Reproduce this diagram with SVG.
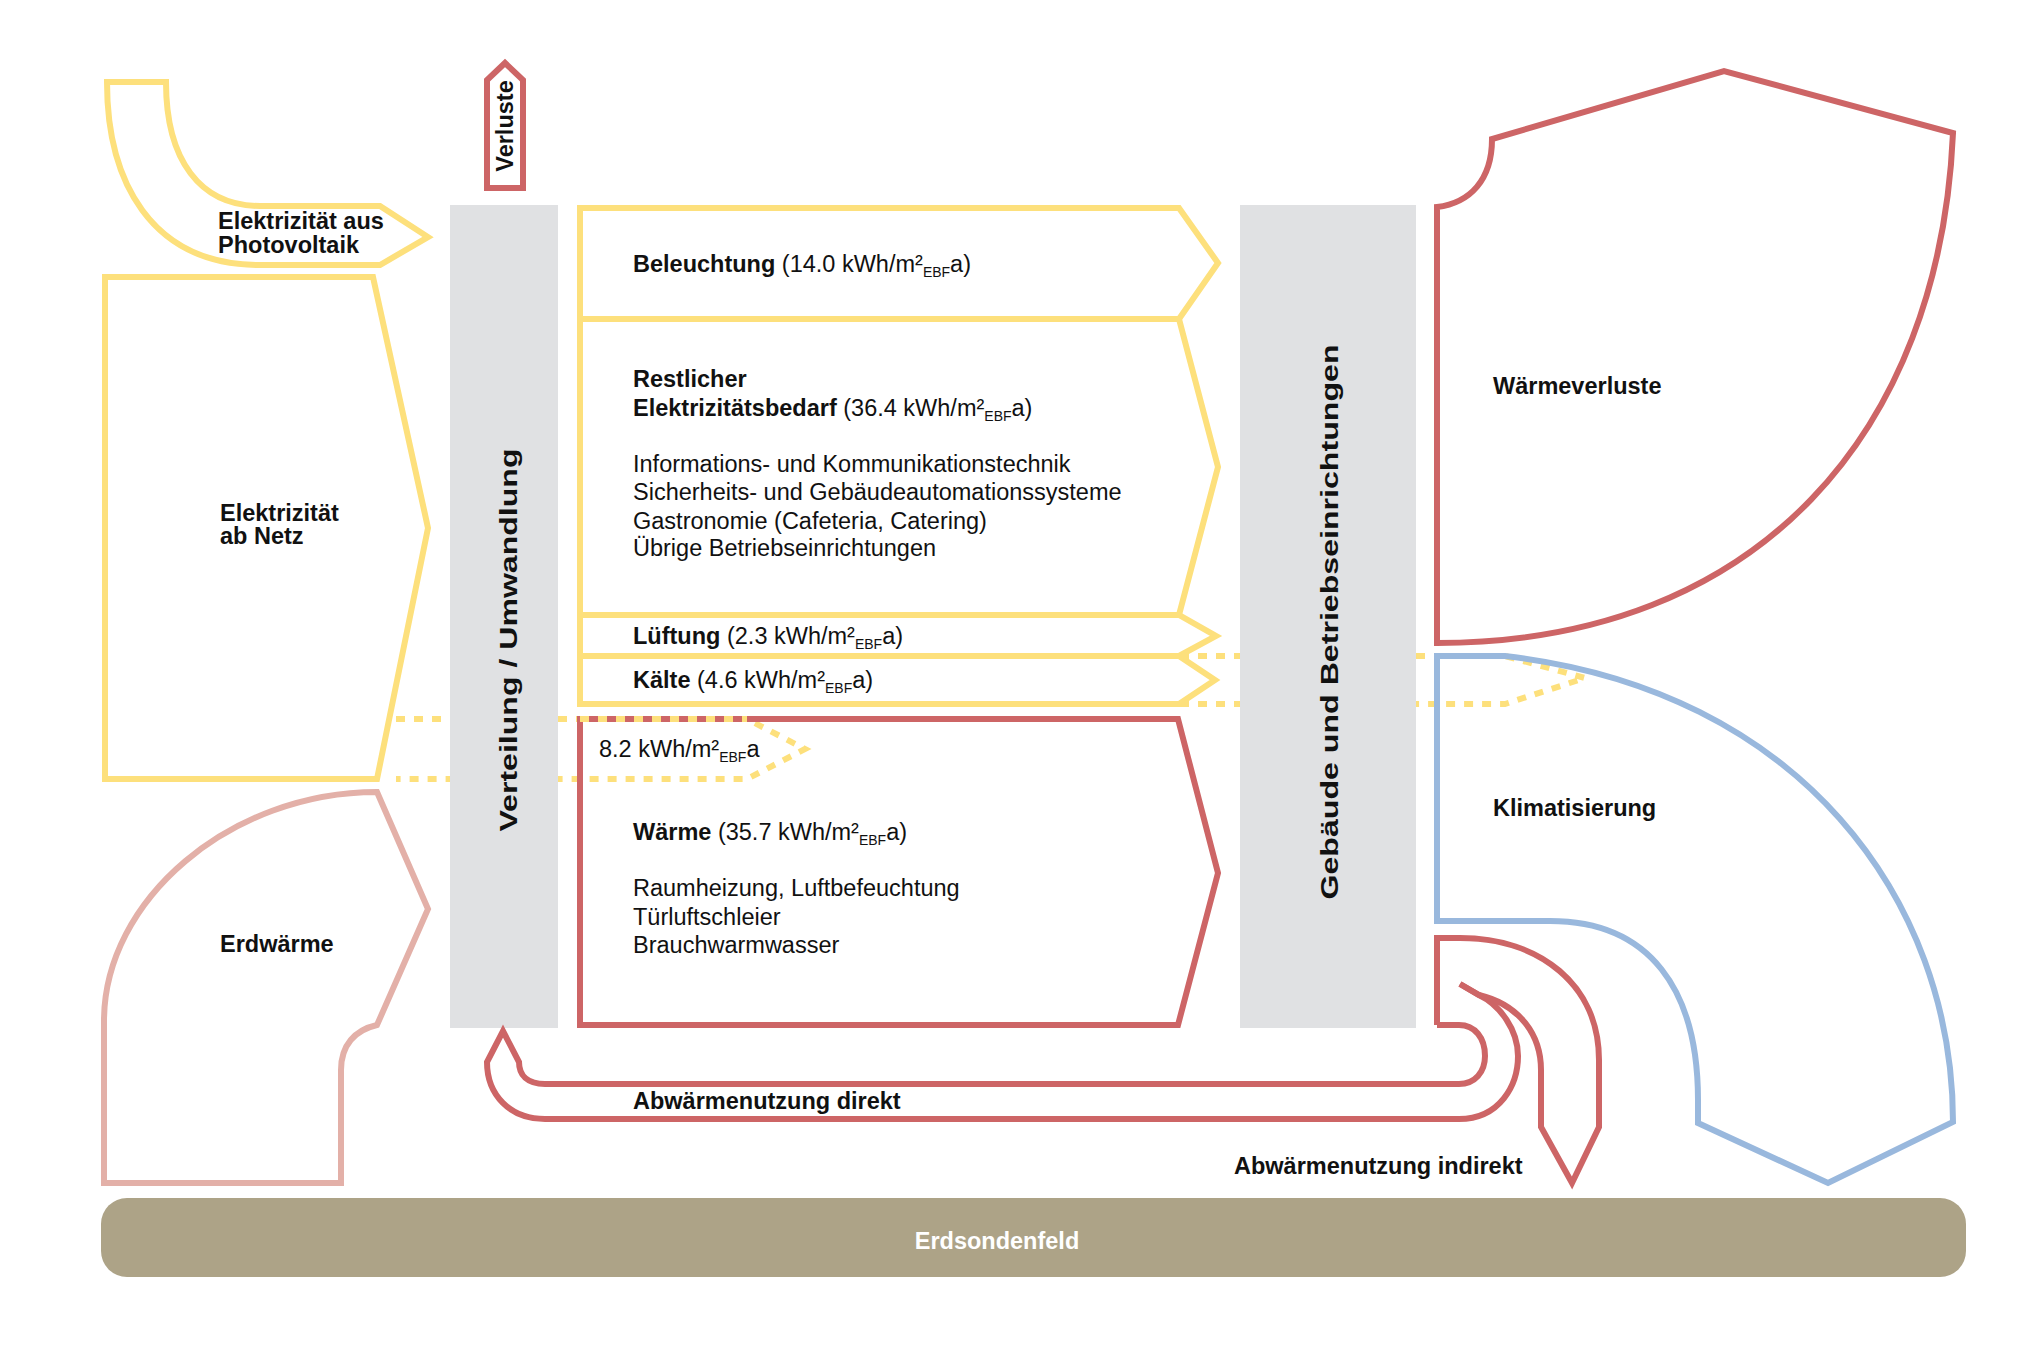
<svg xmlns="http://www.w3.org/2000/svg" width="2037" height="1358" viewBox="0 0 2037 1358">
<style>
.y{fill:none;stroke:#fde07c;stroke-width:6}
.r{fill:none;stroke:#cd6566;stroke-width:6}
.p{fill:none;stroke:#e3b0a8;stroke-width:6}
.b{fill:none;stroke:#99b8dd;stroke-width:6}
.d{fill:none;stroke:#fde07c;stroke-width:6;stroke-dasharray:9 9}
.g{fill:#e0e1e3}
text{font-family:"Liberation Sans",Arial,sans-serif;font-size:23.5px;fill:#111}
.bd{font-weight:bold}
.s{font-size:14px}
</style>
<rect width="2037" height="1358" fill="#fff"/>
<g id="connectors">
<path class="d" d="M396 719 H747 L805 749 L747 779 H396"/>
<path class="d" d="M1180 656 H1240 M1180 704 H1240 M1416 656 H1505 L1585 678 L1505 704 H1416"/>
</g>
<g id="pv"><path class="y" d="M107 82 H166 C166 160 200 206 260 206 H380 L428 237 L380 265 H260 C150 265 107 180 107 82 Z"/>
<text class="bd" x="218" y="229">Elektrizität aus</text><text class="bd" x="218" y="253">Photovoltaik</text></g>
<g id="netz"><path class="y" d="M105 277 H373 L428 528 L377 779 H105 Z"/>
<text class="bd" x="220" y="521">Elektrizität</text><text class="bd" x="220" y="544">ab Netz</text></g>
<g id="erdwaerme"><path class="p" d="M377 792 L428 909 L377 1025 C355 1030 341 1045 341 1070 V1183 H104 V1021 C104 900 230 792 377 792 Z"/>
<text class="bd" x="220" y="952">Erdwärme</text></g>
<g id="verluste"><path class="r" d="M487 188 V80 L505 63 L523 80 V188 Z"/>
<text class="bd" transform="translate(513,126) rotate(-90)" text-anchor="middle" font-size="20">Verluste</text></g>
<g id="verteilung"><rect class="g" x="450" y="205" width="108" height="823"/>
<text class="bd" transform="translate(517,640) rotate(-90)" text-anchor="middle" font-size="29" textLength="383" lengthAdjust="spacingAndGlyphs">Verteilung / Umwandlung</text></g>
<g id="beleuchtung"><path class="y" d="M580 208 H1179 L1218 263 L1179 319 H580 Z"/>
<text x="633" y="272"><tspan class="bd">Beleuchtung</tspan> (14.0 kWh/m²<tspan class="s" dy="5">EBF</tspan><tspan dy="-5">a)</tspan></text></g>
<g id="restlicher"><path class="y" d="M580 319 H1179 L1218 467 L1179 615 H580 Z"/>
<text class="bd" x="633" y="387">Restlicher</text>
<text x="633" y="416"><tspan class="bd">Elektrizitätsbedarf</tspan> (36.4 kWh/m²<tspan class="s" dy="5">EBF</tspan><tspan dy="-5">a)</tspan></text>
<text x="633" y="472">Informations- und Kommunikationstechnik</text>
<text x="633" y="500">Sicherheits- und Gebäudeautomationssysteme</text>
<text x="633" y="529">Gastronomie (Cafeteria, Catering)</text>
<text x="633" y="556">Übrige Betriebseinrichtungen</text></g>
<g id="lueftung"><path class="y" d="M580 615 H1179 L1216 636 L1179 656 H580 Z"/>
<text x="633" y="644"><tspan class="bd">Lüftung</tspan> (2.3 kWh/m²<tspan class="s" dy="5">EBF</tspan><tspan dy="-5">a)</tspan></text></g>
<g id="kaelte"><path class="y" d="M580 656 H1179 L1215 680 L1179 704 H580 Z"/>
<text x="633" y="688"><tspan class="bd">Kälte</tspan> (4.6 kWh/m²<tspan class="s" dy="5">EBF</tspan><tspan dy="-5">a)</tspan></text></g>
<g id="waerme"><path class="r" d="M580 719 H1178 L1218 873 L1178 1025 H580 Z"/>
<path class="d" d="M580 719 H747"/>
<text x="599" y="757">8.2 kWh/m²<tspan class="s" dy="5">EBF</tspan><tspan dy="-5">a</tspan></text>
<text x="633" y="840"><tspan class="bd">Wärme</tspan> (35.7 kWh/m²<tspan class="s" dy="5">EBF</tspan><tspan dy="-5">a)</tspan></text>
<text x="633" y="896">Raumheizung, Luftbefeuchtung</text>
<text x="633" y="925">Türluftschleier</text>
<text x="633" y="953">Brauchwarmwasser</text></g>
<g id="gebaeude"><rect class="g" x="1240" y="205" width="176" height="823"/>
<text class="bd" transform="translate(1338,622) rotate(-90)" text-anchor="middle" font-size="29" textLength="555" lengthAdjust="spacingAndGlyphs">Gebäude und Betriebseinrichtungen</text></g>
<g id="waermeverluste"><path class="r" d="M1437 643 V207 C1470 203 1492 180 1492 139 L1724 71 L1953 133 C1940 430 1760 643 1437 643 Z"/>
<text class="bd" x="1493" y="394">Wärmeverluste</text></g>
<g id="klimatisierung"><path class="b" d="M1437 656 H1505 C1800 690 1953 900 1953 1122 L1828 1183 L1698 1123 V1100 C1698 990 1650 921 1550 921 H1437 Z"/>
<text class="bd" x="1493" y="816">Klimatisierung</text></g>
<g id="abwaerme-direkt"><path class="r" d="M1437 1025 H1459 C1475 1025 1485 1038 1485 1056 C1485 1072 1475 1084 1459 1084 H545 C527 1084 519 1075 519 1062 L503 1031 L487 1062 C487 1095 510 1119 545 1119 H1459 C1500 1119 1518 1085 1518 1056 C1518 1030 1500 1005 1479 995 L1460 984"/>
<text class="bd" x="633" y="1109">Abwärmenutzung direkt</text></g>
<g id="abwaerme-indirekt"><path class="r" d="M1460 984 L1479 995 C1520 1005 1541 1035 1541 1070 V1127 L1572 1183 L1599 1127 V1060 C1599 985 1540 938 1460 938 H1437 V1025"/>
<text class="bd" x="1234" y="1174">Abwärmenutzung indirekt</text></g>
<g id="erdsondenfeld"><rect x="101" y="1198" width="1865" height="79" rx="26" fill="#ada387"/>
<text class="bd" x="997" y="1249" text-anchor="middle" style="fill:#fff">Erdsondenfeld</text></g>
</svg>
